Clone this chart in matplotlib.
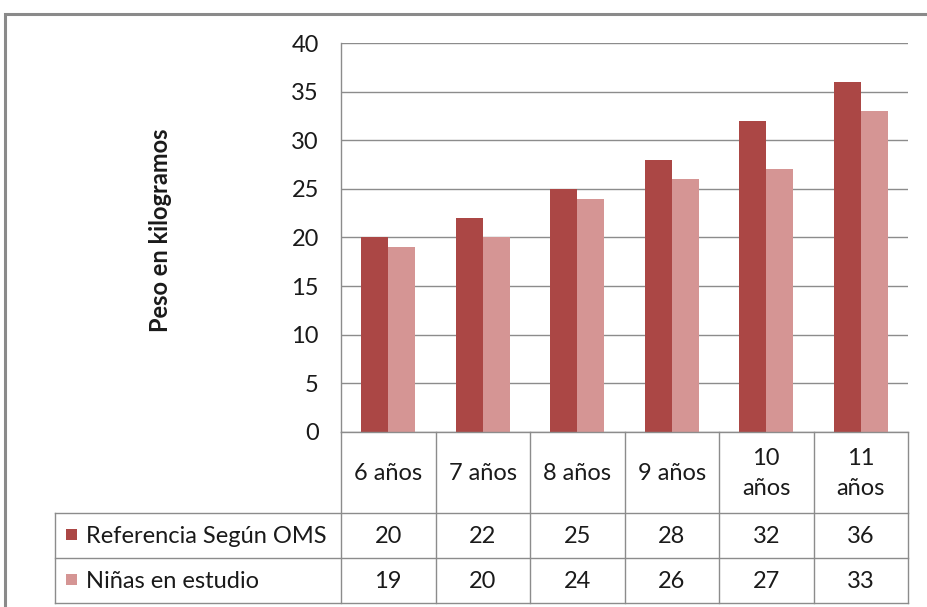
import matplotlib
matplotlib.use("Agg")
import matplotlib.pyplot as plt
from matplotlib.patches import Rectangle
import numpy as np

categories = ["6 años", "7 años", "8 años", "9 años", "10\naños", "11\naños"]
series_names = ["Referencia Según OMS", "Niñas en estudio"]
referencia_oms = [20, 22, 25, 28, 32, 36]
ninas_estudio = [19, 20, 24, 26, 27, 33]
y_ticks = [0, 5, 10, 15, 20, 25, 30, 35, 40]

colors = ["#AB4745", "#D59594"]
grid_c = "#8C8C8C"
txt_c = "#1A1A1A"

plt.rcParams["font.family"] = ["Lato", "DejaVu Sans"]
FS = 17

W, H = 927, 607
fig = plt.figure(figsize=(W / 100, H / 100), dpi=100)
fig.patch.set_facecolor("white")

# chart frame
fig.add_artist(Rectangle((5 / W, -0.1), 1.1, 1 - 14 / H + 0.1, transform=fig.transFigure,
                         fill=False, edgecolor="#8A8A8A", linewidth=2.2))

L, R, T, B = 341, 908, 43, 432
ax = fig.add_axes([L / W, 1 - B / H, (R - L) / W, (B - T) / H])

x = np.arange(len(categories))
bw = 0.285
series = [referencia_oms, ninas_estudio]
for k, vals in enumerate(series):
    ax.bar(x + (k - 0.5) * bw, vals, width=bw, color=colors[k], zorder=3)

ax.set_xlim(-0.5, len(categories) - 0.5)
ax.set_ylim(0, 40)
ax.set_yticks(y_ticks)
ax.set_yticklabels([str(t) for t in y_ticks], fontsize=FS, color=txt_c)
ax.tick_params(axis="y", length=0, pad=16)
ax.set_xticks([])
ax.grid(axis="y", color=grid_c, linewidth=1.0, zorder=0)
for s in ["top", "right", "bottom"]:
    ax.spines[s].set_visible(False)
ax.spines["left"].set_color(grid_c)
ax.spines["left"].set_linewidth(1.0)

ph = B - T
pw = R - L

# axis title
ax.text((160 - L) / pw, (B - 230) / ph, "Peso en kilogramos", transform=ax.transAxes,
        rotation=90, ha="center", va="center", fontsize=FS, fontweight="bold", color=txt_c)

# data table below the axis
def ay(py):
    return (B - py) / ph
row_y = [ay(432), ay(513), ay(558), ay(603)]
left_x = (55 - L) / pw
lkw = dict(color=grid_c, linewidth=1.0, clip_on=False, zorder=5)
trans = ax.get_xaxis_transform()
# horizontal lines
ax.plot([-0.5, len(categories) - 0.5], [row_y[0]] * 2, transform=trans, **lkw)
for ry in row_y[1:]:
    ax.plot([left_x, 1.0], [ry, ry], transform=ax.transAxes, **lkw)
# vertical lines
for b in np.arange(len(categories) + 1) - 0.5:
    ax.plot([b, b], [row_y[0], row_y[3]], transform=trans, **lkw)
ax.plot([left_x, left_x], [row_y[1], row_y[3]], transform=ax.transAxes, **lkw)

for i, c in enumerate(categories):
    ax.text(i, (row_y[0] + row_y[1]) / 2 - 0.003, c, transform=trans, ha="center", va="center",
            fontsize=FS, color=txt_c, linespacing=1.55)
for k, vals in enumerate(series):
    yc = (row_y[k + 1] + row_y[k + 2]) / 2
    for i, v in enumerate(vals):
        ax.text(i, yc - 0.003, str(v), transform=trans, ha="center", va="center",
                fontsize=FS, color=txt_c)
    kx = (66 - L) / pw
    kw = 11 / pw
    kh = 11 / ph
    ax.add_patch(Rectangle((kx, yc - kh / 2 + 0.003), kw, kh, transform=ax.transAxes,
                           facecolor=colors[k], edgecolor="none", clip_on=False))
    ax.text((86 - L) / pw, yc - 0.003, series_names[k], transform=ax.transAxes,
            ha="left", va="center", fontsize=FS, color=txt_c)

fig.savefig("out.png", dpi=100, facecolor="white")
